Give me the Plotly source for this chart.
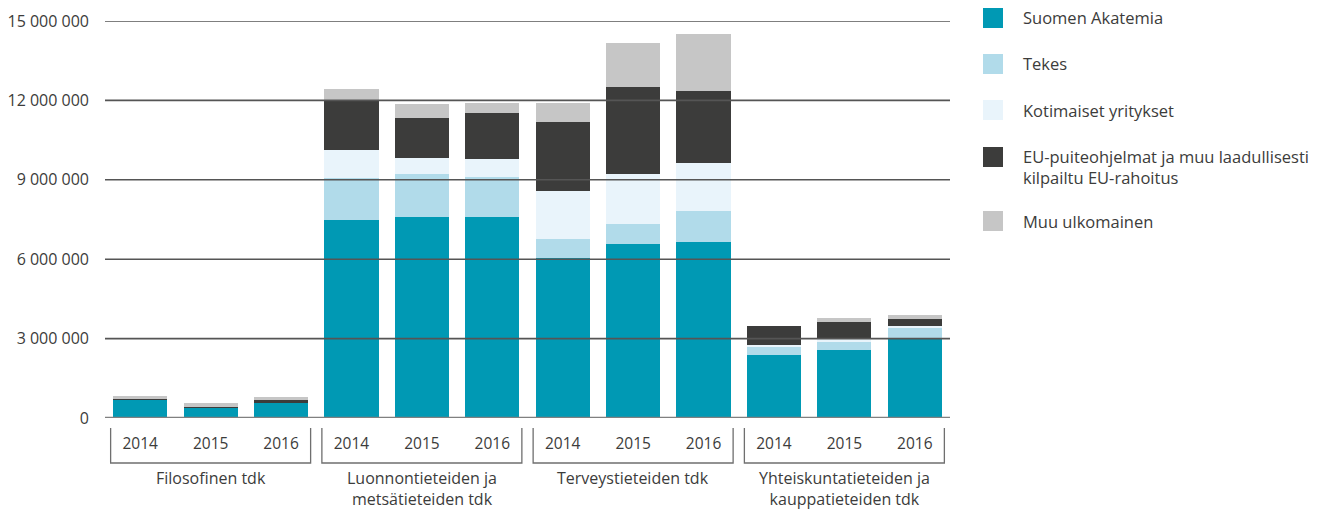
import plotly.graph_objects as go

# ---- data (values in euros) ----
years = ["2014", "2015", "2016"]
faculties = ["Filosofinen tdk", "Luonnontieteiden ja<br>metsätieteiden tdk",
             "Terveystieteiden tdk", "Yhteiskuntatieteiden ja<br>kauppatieteiden tdk"]
series_names = ["Suomen Akatemia", "Tekes", "Kotimaiset yritykset",
                "EU-puiteohjelmat ja muu laadullisesti<br>kilpailtu EU-rahoitus",
                "Muu ulkomainen"]

suomen_akatemia = [680000, 390000, 570000, 7480000, 7590000, 7590000,
                   6040000, 6570000, 6650000, 2380000, 2570000, 3020000]
tekes = [0, 0, 0, 1590000, 1630000, 1510000,
         720000, 760000, 1170000, 300000, 300000, 380000]
kotimaiset_yritykset = [0, 0, 0, 1050000, 600000, 680000,
                        1820000, 1890000, 1810000, 80000, 110000, 80000]
eu_rahoitus = [40000, 40000, 110000, 1860000, 1510000, 1740000,
               2600000, 3280000, 2720000, 720000, 650000, 260000]
muu_ulkomainen = [110000, 140000, 110000, 450000, 530000, 380000,
                  720000, 1670000, 2160000, 0, 150000, 150000]

y_ticks = [0, 3000000, 6000000, 9000000, 12000000, 15000000]

colors = ["#0099b4", "#b1dbea", "#e9f4fb", "#3c3c3b", "#c6c6c6"]
series = [suomen_akatemia, tekes, kotimaiset_yritykset, eu_rahoitus, muu_ulkomainen]

n_groups = len(faculties)
n_years = len(years)
x_pos = list(range(n_groups * n_years))
x_text = years * n_groups

text_color = "#3c3c3b"
font_family = "Open Sans, Noto Sans, sans-serif"

fig = go.Figure()
for name, vals, col in zip(series_names, series, colors):
    fig.add_trace(go.Bar(x=x_pos, y=vals, name=name, marker_color=col,
                         marker_line_width=0, width=0.77, showlegend=False))

W, H = 1326, 509
ml, mr, mt, mb = 105, 376, 21, 91
fig.update_layout(
    width=W, height=H, barmode="stack",
    margin=dict(l=ml, r=mr, t=mt, b=mb, autoexpand=False),
    plot_bgcolor="white", paper_bgcolor="white",
    separators=", ",
    font=dict(family=font_family, size=15, color=text_color),
    xaxis=dict(range=[-0.5, len(x_pos) - 0.5], tickvals=x_pos, ticktext=x_text,
               showgrid=False, zeroline=False, showline=False, ticks="",
               automargin=False,
               ticklabelstandoff=14, tickfont=dict(size=15.5, color=text_color)),
    yaxis=dict(range=[0, y_ticks[-1]], tickvals=y_ticks, tickformat=",d",
               showgrid=False, zeroline=False, showline=False, ticks="",
               automargin=False,
               ticklabelstandoff=15, tickfont=dict(size=16, color=text_color)),
)

# gridlines drawn above the bars
for v in y_ticks:
    if v == 0:
        fig.add_shape(type="line", xref="paper", yref="y", x0=0, x1=1, y0=v, y1=v,
                      line=dict(color="#808080", width=2.5), layer="above")
    else:
        fig.add_shape(type="line", xref="paper", yref="y", x0=0, x1=1, y0=v, y1=v,
                      line=dict(color="#555555", width=1.6), layer="above")

# group brackets and group labels
plot_h = H - mt - mb
def py(pix):  # pixel row -> paper y
    return (H - mb - pix) / plot_h

bracket_top = py(428)
bracket_bot = py(463)
for g, fac in enumerate(faculties):
    x0 = g * n_years - 0.42
    x1 = g * n_years + n_years - 1 + 0.42
    fig.add_shape(type="path", xref="x", yref="paper",
                  path=f"M {x0} {bracket_top} L {x0} {bracket_bot} L {x1} {bracket_bot} L {x1} {bracket_top}",
                  line=dict(color="#6f6f6f", width=1.3))
    fig.add_annotation(x=g * n_years + (n_years - 1) / 2, xref="x", y=py(465), yref="paper",
                       yanchor="top", text=fac, showarrow=False,
                       font=dict(size=16, color=text_color), align="center")

# custom legend (right side)
leg_boxes = [18, 64, 110, 157, 221]
leg_text_centers = [18, 64, 110, 167, 221]
pw = W - ml - mr
for name, col, row, tc in zip(series_names, colors, leg_boxes, leg_text_centers):
    fig.add_shape(type="rect", xref="paper", yref="paper",
                  x0=(983 - ml) / pw, x1=(1003 - ml) / pw,
                  y0=py(row + 10), y1=py(row - 10),
                  fillcolor=col, line=dict(width=0))
    fig.add_annotation(x=(1021 - ml) / pw, xref="paper",
                       y=py(tc), yref="paper", xanchor="left", yanchor="middle",
                       text=name, showarrow=False, align="left",
                       font=dict(size=16.5, color=text_color))

fig.write_html("out.html", config={"displayModeBar": False},
               post_script="document.body.style.margin='0';")
